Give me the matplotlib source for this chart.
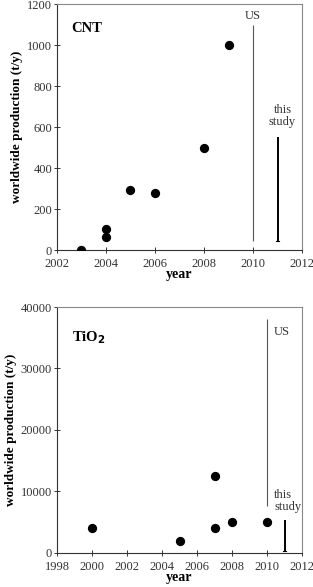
import matplotlib
matplotlib.use("Agg")
import matplotlib.pyplot as plt

plt.rcParams['font.family'] = ['Liberation Serif', 'DejaVu Serif']

cnt_years = [2003, 2004, 2004, 2005, 2006, 2008, 2009]
cnt_values = [2, 105, 65, 293, 278, 500, 1000]
tio2_years = [2000, 2005, 2007, 2007, 2008, 2010]
tio2_values = [4000, 2000, 12500, 4000, 5000, 5000]

cnt_us = (2010, 45, 1100)
cnt_study = (2011, 45, 550)
tio2_us = (2010, 7700, 38000)
tio2_study = (2011, 300, 5400)

fig = plt.figure(figsize=(3.13, 5.87), dpi=100)
ax1 = fig.add_axes([0.182, 0.574, 0.783, 0.419])
ax2 = fig.add_axes([0.182, 0.058, 0.783, 0.419])

def style(ax):
    for s in ['top', 'right']:
        ax.spines[s].set_color('#888888')
    for s in ['left', 'bottom']:
        ax.spines[s].set_color('#333333')
    for s in ax.spines.values():
        s.set_linewidth(0.8)
    ax.tick_params(direction='inout', length=4, width=0.7, labelsize=9, colors='#333333')
    ax.tick_params(axis='y', pad=1.5)
    ax.tick_params(axis='x', pad=3.5)
    ax.set_xlabel('year', fontsize=10, fontweight='bold', labelpad=-1)
    ax.set_ylabel('worldwide production (t/y)', fontsize=9.5, fontweight='bold', labelpad=3)

# CNT
ax1.scatter(cnt_years, cnt_values, s=32, color='black', zorder=3)
ax1.vlines(cnt_us[0], cnt_us[1], cnt_us[2], color='#555555', lw=0.8)
ax1.vlines(cnt_study[0], cnt_study[1], cnt_study[2], color='black', lw=1.4)
ax1.plot([cnt_study[0] - 0.08, cnt_study[0] + 0.08], [cnt_study[1]] * 2, color='black', lw=0.8)
ax1.text(2010, 1140, 'US', fontsize=9, ha='center', va='center', color='#333333')
ax1.text(2011.2, 655, 'this\nstudy', fontsize=9, ha='center', va='center', color='#333333', linespacing=1.0)
ax1.text(2002.6, 1080, 'CNT', fontsize=10.5, fontweight='bold', va='center')
ax1.set_xlim(2002, 2012)
ax1.set_ylim(0, 1200)
ax1.set_xticks([2002, 2004, 2006, 2008, 2010, 2012])
ax1.set_yticks([0, 200, 400, 600, 800, 1000, 1200])
style(ax1)

# TiO2
ax2.scatter(tio2_years, tio2_values, s=32, color='black', zorder=3)
ax2.vlines(tio2_us[0], tio2_us[1], tio2_us[2], color='#555555', lw=0.8)
ax2.vlines(tio2_study[0], tio2_study[1], tio2_study[2], color='black', lw=1.4)
ax2.plot([tio2_study[0] - 0.1, tio2_study[0] + 0.1], [tio2_study[1]] * 2, color='black', lw=0.8)
ax2.text(2010.4, 36000, 'US', fontsize=9, ha='left', va='center', color='#333333')
ax2.text(2010.4, 8500, 'this\nstudy', fontsize=9, ha='left', va='center', color='#333333', linespacing=1.0)
ax2.text(1998.85, 35000, r'TiO$_\mathbf{2}$', fontsize=10.5, fontweight='bold', va='center')
ax2.set_xlim(1998, 2012)
ax2.set_ylim(0, 40000)
ax2.set_xticks(list(range(1998, 2013, 2)))
ax2.set_yticks([0, 10000, 20000, 30000, 40000])
style(ax2)

fig.savefig('out.png', dpi=100)
